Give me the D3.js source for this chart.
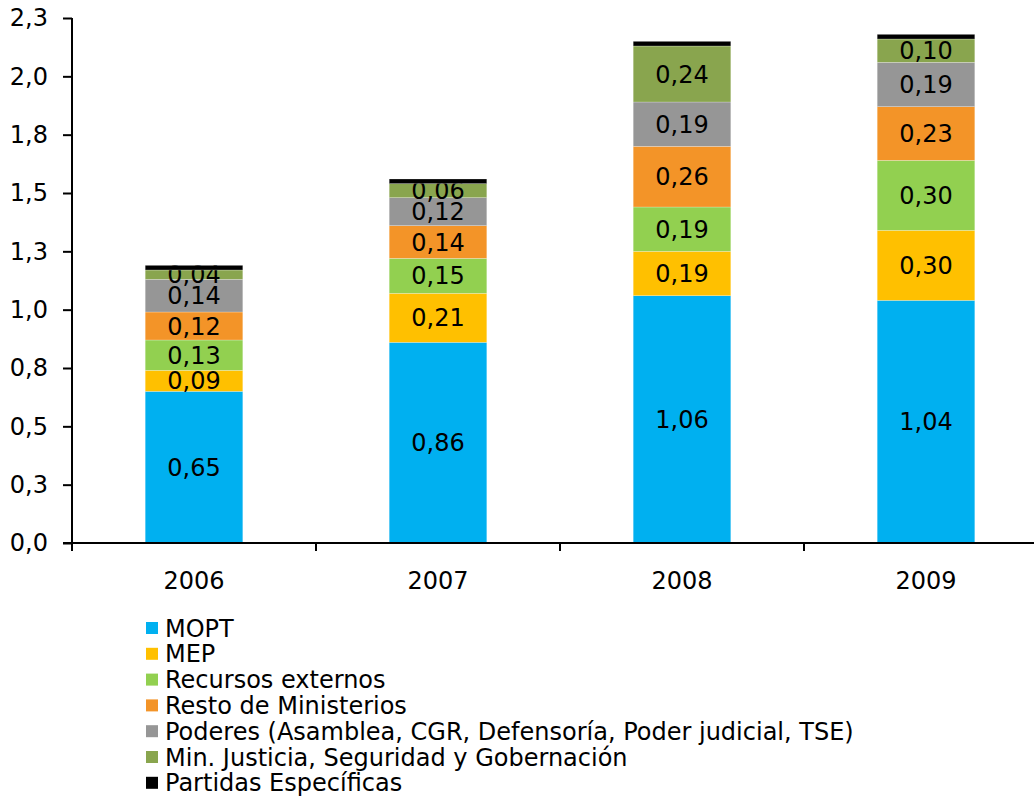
<!DOCTYPE html>
<html>
<head>
<meta charset="utf-8">
<script src="https://cdn.jsdelivr.net/npm/d3@7"></script>
<style>
  body { margin: 0; background: #fff; }
  svg { display: block; font-family: "DejaVu Sans", sans-serif; }
</style>
</head>
<body>
<svg id="chart" width="1034" height="797"></svg>
<script>
var years = ["2006", "2007", "2008", "2009"];
var seriesNames = ["MOPT", "MEP", "Recursos externos", "Resto de Ministerios",
  "Poderes (Asamblea, CGR, Defensoría, Poder judicial, TSE)",
  "Min. Justicia, Seguridad y Gobernación", "Partidas Específicas"];
var seriesColors = ["#00b0f0", "#ffc000", "#92d050", "#f39428", "#969696", "#89a54e", "#000000"];
var mopt = [0.65, 0.86, 1.06, 1.04];
var mep = [0.09, 0.21, 0.19, 0.30];
var recursos = [0.13, 0.15, 0.19, 0.30];
var resto = [0.12, 0.14, 0.26, 0.23];
var poderes = [0.14, 0.12, 0.19, 0.19];
var justicia = [0.04, 0.06, 0.24, 0.10];
var partidas = [0.02, 0.02, 0.02, 0.02];
var yTicks = [0, 0.25, 0.5, 0.75, 1.0, 1.25, 1.5, 1.75, 2.0, 2.25];
var showLabel = [true, true, true, true, true, true, false];

var svg = d3.select("#chart");
var margin = {left: 72, top: 18, plotW: 976, bottom: 543};

var seriesValues = [mopt, mep, recursos, resto, poderes, justicia, partidas];
var table = years.map(function(y, i) {
  var row = {year: y};
  seriesNames.forEach(function(n, j) { row[n] = seriesValues[j][i]; });
  return row;
});
var stacked = d3.stack().keys(seriesNames)(table);

var x = d3.scaleBand().domain(years)
  .range([margin.left, margin.left + margin.plotW])
  .paddingInner(0.6).paddingOuter(0.3);
var y = d3.scaleLinear().domain([0, 2.25]).range([margin.bottom, margin.top]);

var fmt = function(v) { return d3.format(".2f")(v).replace(".", ","); };

var layers = svg.append("g").selectAll("g")
  .data(stacked).enter().append("g")
    .attr("fill", function(d, i) { return seriesColors[i]; });

layers.selectAll("rect")
  .data(function(d) { return d; })
  .enter().append("rect")
    .attr("x", function(d) { return x(d.data.year); })
    .attr("width", x.bandwidth())
    .attr("y", function(d) { return y(d[1]); })
    .attr("height", function(d) { return y(d[0]) - y(d[1]); })
    .attr("stroke", "#fff")
    .attr("stroke-opacity", 0.4)
    .attr("stroke-width", 0.6);

layers.filter(function(d, i) { return showLabel[i]; })
  .selectAll("text")
  .data(function(d) { return d; })
  .enter().append("text")
    .attr("x", function(d) { return x(d.data.year) + x.bandwidth() / 2; })
    .attr("y", function(d) { return (y(d[0]) + y(d[1])) / 2; })
    .attr("dy", "0.36em")
    .attr("text-anchor", "middle")
    .attr("fill", "#000")
    .style("font-size", "24px")
    .text(function(d) { return fmt(d[1] - d[0]); });

// y axis
var yAxis = svg.append("g")
  .attr("transform", "translate(" + margin.left + ",0)")
  .call(d3.axisLeft(y).tickValues(yTicks).tickSize(9).tickPadding(15)
    .tickFormat(function(v) { return d3.format(".1f")(v + 1e-9).replace(".", ","); }));
yAxis.select(".domain").attr("stroke-width", 2).attr("d", "M0," + margin.bottom + "V" + margin.top);
yAxis.selectAll(".tick line").attr("stroke-width", 2);
yAxis.selectAll("text").style("font-size", "24px").attr("fill", "#000")
  .style("font-family", "DejaVu Sans");

// x axis with ticks at category boundaries
var boundaries = d3.range(years.length + 1).map(function(i) { return margin.left + i * margin.plotW / years.length; });
var xAxis = svg.append("g");
xAxis.append("line")
  .attr("x1", margin.left - 9).attr("x2", 1034)
  .attr("y1", margin.bottom).attr("y2", margin.bottom)
  .attr("stroke", "#000").attr("stroke-width", 2);
xAxis.selectAll(".bt").data(boundaries).enter().append("line")
  .attr("x1", function(d) { return d; }).attr("x2", function(d) { return d; })
  .attr("y1", margin.bottom).attr("y2", margin.bottom + 8)
  .attr("stroke", "#000").attr("stroke-width", 2);
xAxis.selectAll("text").data(years).enter().append("text")
  .attr("x", function(d) { return x(d) + x.bandwidth() / 2; })
  .attr("y", 589)
  .attr("text-anchor", "middle")
  .style("font-size", "24px")
  .text(function(d) { return d; });

// legend
var legend = svg.append("g").selectAll("g")
  .data(seriesNames).enter().append("g")
    .attr("transform", function(d, i) { return "translate(146," + (628 + i * 25.8) + ")"; });
legend.append("rect")
  .attr("x", 0).attr("y", -6).attr("width", 12).attr("height", 12)
  .attr("fill", function(d, i) { return seriesColors[i]; });
legend.append("text")
  .attr("x", 19).attr("dy", "0.36em")
  .style("font-size", "24px")
  .text(function(d) { return d; });
</script>
</body>
</html>
